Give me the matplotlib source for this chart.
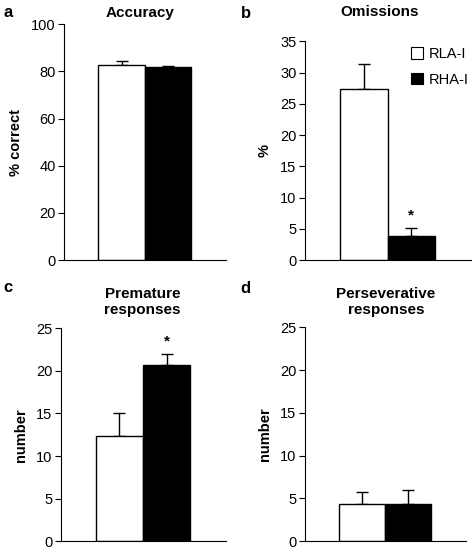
import numpy as np
import matplotlib.pyplot as plt

plt.rcParams['font.family'] = ['Liberation Sans', 'DejaVu Sans']

groups = ['RLA-I', 'RHA-I']
colors = ['white', 'black']

accuracy = [82.8, 81.7]
accuracy_err = [1.7, 0.5]
omissions = [27.3, 3.9]
omissions_err = [4.0, 1.3]
premature = [12.4, 20.7]
premature_err = [2.7, 1.3]
persev = [4.4, 4.4]
persev_err = [1.4, 1.6]

panels = [
    ('a', 'Accuracy', '% correct', accuracy, accuracy_err, (0, 100), np.arange(0, 101, 20), False),
    ('b', 'Omissions', '%', omissions, omissions_err, (0, 35), np.arange(0, 36, 5), True),
    ('c', 'Premature\nresponses', 'number', premature, premature_err, (0, 25), np.arange(0, 26, 5), False),
    ('d', 'Perseverative\nresponses', 'number', persev, persev_err, (0, 25), np.arange(0, 26, 5), False),
]
stars = {'b': 1, 'c': 1}

# axes boxes in figure fraction (left, bottom, width, height)
boxes = [
    (0.136, 0.527, 0.343, 0.429),
    (0.646, 0.527, 0.352, 0.398),
    (0.129, 0.016, 0.350, 0.387),
    (0.646, 0.016, 0.341, 0.389),
]
letter_pos = [(0.008, 0.978), (0.51, 0.975), (0.008, 0.478), (0.51, 0.475)]
# title centres (figure fraction), top of text block
title_pos = [(0.297, 0.99), (0.805, 0.99), (0.302, 0.478), (0.818, 0.478)]

fig = plt.figure(figsize=(4.72, 5.5), dpi=100)

for (letter, title, ylabel, vals, errs, ylim, ticks, legend), box, lp, tp in zip(
        panels, boxes, letter_pos, title_pos):
    ax = fig.add_axes(box)
    x = np.arange(1, len(vals) + 1)
    ax.bar(x, vals, width=1.0, color=colors, edgecolor='black', linewidth=1.0, zorder=2)
    ax.errorbar(x, vals, yerr=[np.zeros(len(errs)), errs], fmt='none', ecolor='black',
                elinewidth=1.0, capsize=4, capthick=1.0, zorder=1)
    ax.set_xlim(-0.24, 3.26)
    ax.set_ylim(*ylim)
    ax.set_yticks(ticks)
    ax.set_xticks([])
    ax.spines['top'].set_visible(False)
    ax.spines['right'].set_visible(False)
    ax.spines['left'].set_linewidth(0.8)
    ax.spines['bottom'].set_linewidth(0.8)
    ax.tick_params(axis='y', labelsize=10.5, length=4, width=0.8, pad=2)
    ax.set_ylabel(ylabel, fontsize=10.5, fontweight='bold', labelpad=6)
    fig.text(tp[0], tp[1], title, fontsize=11, fontweight='bold', ha='center', va='top',
             linespacing=1.15)
    fig.text(lp[0], lp[1], letter, fontsize=12, fontweight='bold', va='center', ha='left')
    if letter in stars:
        i = stars[letter]
        top = vals[i] + errs[i]
        ax.text(x[i], top + (ylim[1] - ylim[0]) * 0.025, '*', ha='center', va='bottom',
                fontsize=11, fontweight='bold')
    if legend:
        handles = [plt.Rectangle((0, 0), 1, 1, facecolor=c, edgecolor='black', linewidth=0.8)
                   for c in colors]
        ax.legend(handles, groups, loc='upper right', frameon=False, fontsize=10.5,
                  handlelength=0.8, handleheight=0.8, handletextpad=0.4,
                  labelspacing=0.8, borderaxespad=0.0, bbox_to_anchor=(1.02, 1.0))

fig.savefig('out.png', dpi=100)
